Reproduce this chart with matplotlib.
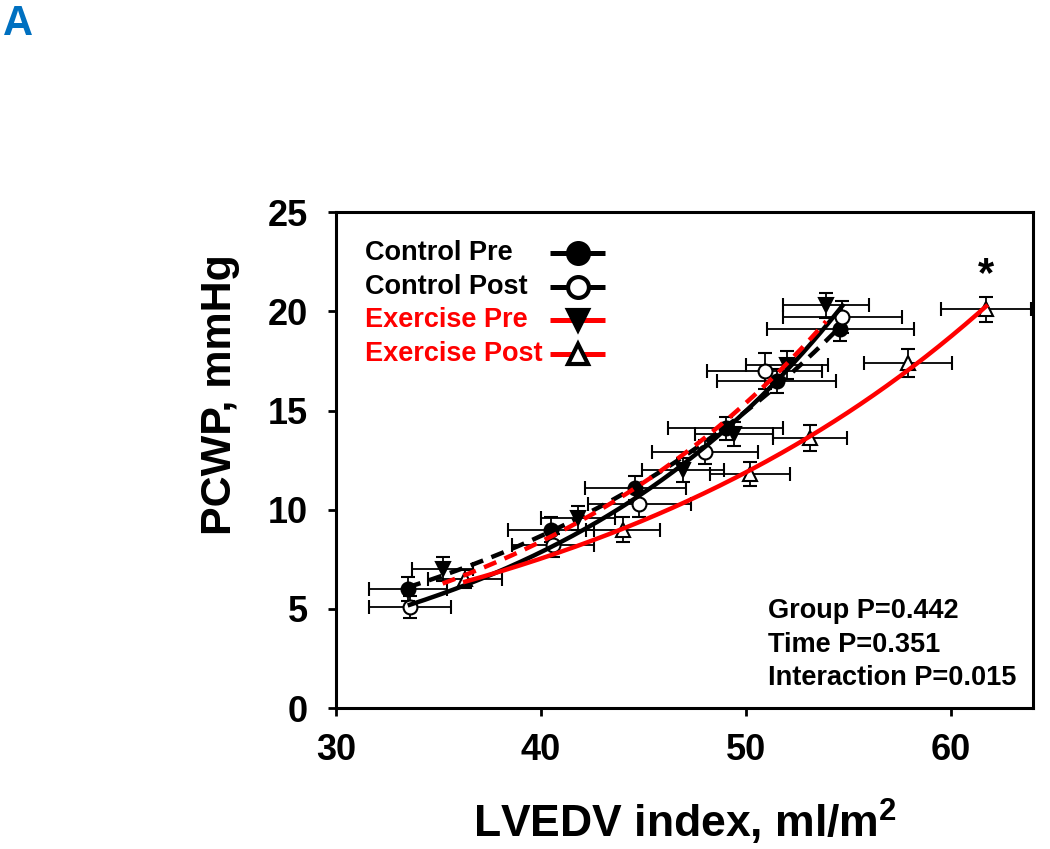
import numpy as np
import matplotlib
matplotlib.use("Agg")
import matplotlib.pyplot as plt
from matplotlib.lines import Line2D

plt.rcParams['font.family'] = ['Liberation Sans', 'DejaVu Sans']
plt.rcParams['font.weight'] = 'bold'
plt.rcParams['mathtext.fontset'] = 'custom'
plt.rcParams['mathtext.bf'] = 'Liberation Sans:bold'
plt.rcParams['mathtext.rm'] = 'Liberation Sans:bold'

# --- data ---
groups = ["Control Pre", "Control Post", "Exercise Pre", "Exercise Post"]

ctrl_pre_x = [33.5, 40.5, 44.6, 49.0, 51.5, 54.6]
ctrl_pre_y = [6.0, 9.0, 11.1, 14.1, 16.5, 19.1]
ctrl_pre_xerr = [1.9, 2.1, 2.45, 2.8, 2.9, 3.6]
ctrl_pre_yerr = [0.6, 0.65, 0.6, 0.6, 0.6, 0.6]

ctrl_post_x = [33.6, 40.6, 44.8, 48.0, 50.9, 54.7]
ctrl_post_y = [5.1, 8.2, 10.3, 12.9, 17.0, 19.7]
ctrl_post_xerr = [2.0, 2.0, 2.5, 2.6, 2.8, 2.9]
ctrl_post_yerr = [0.55, 0.6, 0.65, 0.6, 0.9, 0.8]

ex_pre_x = [35.2, 41.8, 46.9, 49.4, 52.0, 53.9]
ex_pre_y = [7.0, 9.6, 12.0, 13.8, 17.3, 20.3]
ex_pre_xerr = [1.5, 1.8, 2.0, 1.9, 2.0, 2.1]
ex_pre_yerr = [0.6, 0.6, 0.6, 0.6, 0.7, 0.65]

ex_post_x = [36.3, 44.0, 50.2, 53.1, 57.9, 61.7]
ex_post_y = [6.5, 9.0, 11.8, 13.6, 17.4, 20.1]
ex_post_xerr = [1.8, 1.8, 1.95, 1.8, 2.15, 2.2]
ex_post_yerr = [0.45, 0.65, 0.6, 0.65, 0.7, 0.65]

stats_text = ["Group P=0.442", "Time P=0.351", "Interaction P=0.015"]
x_ticks = [30, 40, 50, 60]
y_ticks = [0, 5, 10, 15, 20, 25]

fig = plt.figure(figsize=(10.5, 8.49), dpi=100)
ax = fig.add_axes([0.32, 0.166, 0.664, 0.584])

series = [
    (ctrl_pre_x, ctrl_pre_y, ctrl_pre_xerr, ctrl_pre_yerr, 'o', 'black', 'black', '--'),
    (ctrl_post_x, ctrl_post_y, ctrl_post_xerr, ctrl_post_yerr, 'o', 'white', 'black', '-'),
    (ex_pre_x, ex_pre_y, ex_pre_xerr, ex_pre_yerr, 'v', 'black', 'red', '--'),
    (ex_post_x, ex_post_y, ex_post_xerr, ex_post_yerr, '^', 'white', 'red', '-'),
]

for xs, ys, xe, ye, mk, fc, lc, ls in series:
    xs = np.array(xs); ys = np.array(ys)
    ax.errorbar(xs, ys, xerr=xe, yerr=ye, fmt=mk, mfc=fc, mec='black', mew=1.5,
                ms=10, ecolor='black', elinewidth=1.3, capsize=5, capthick=1.3, zorder=3)
    # exponential fit (least squares approx. in y-space)
    b, lna = np.polyfit(xs, np.log(ys), 1, w=ys)
    xf = np.linspace(xs.min(), xs.max(), 200)
    yf = np.exp(lna + b * xf)
    if ls == '--':
        ax.plot(xf, yf, color=lc, lw=3.2, ls=(0, (3, 2)), zorder=4)
    else:
        ax.plot(xf, yf, color=lc, lw=3.2, ls='-', zorder=4)

ax.set_xlim(30, 64)
ax.set_ylim(0, 25)
ax.set_xticks(x_ticks)
ax.set_yticks(y_ticks)
ax.tick_params(axis='both', direction='out', length=6, width=2, labelsize=26)
ax.tick_params(axis='y', pad=14)
ax.tick_params(axis='x', pad=12)
for lab in ax.get_xticklabels() + ax.get_yticklabels():
    lab.set_fontweight('bold')
for sp in ax.spines.values():
    sp.set_linewidth(2.2)

ax.set_xlabel("LVEDV index, ml/m$\\mathbf{^2}$", fontsize=32, fontweight='bold')
ax.set_ylabel("PCWP, mmHg", fontsize=31, fontweight='bold')
ax.xaxis.set_label_coords(0.5, -0.18)
ax.yaxis.set_label_coords(-0.137, 0.633)

# legend (drawn manually: text left, handle right)
leg_styles = [
    ('black', 'o', 'black', 'black'),
    ('black', 'o', 'white', 'black'),
    ('red', 'v', 'black', 'red'),
    ('red', '^', 'white', 'red'),
]
leg_y = [0.918, 0.85, 0.783, 0.715]
for name, (lc, mk, fc, tc), yy in zip(groups, leg_styles, leg_y):
    ax.text(0.042, yy, name, transform=ax.transAxes, fontsize=19.5,
            fontweight='bold', color=tc, ha='left', va='center')
    ax.add_line(Line2D([0.307, 0.386], [yy, yy], transform=ax.transAxes,
                       color=lc, lw=3.6, solid_capstyle='butt'))
    ax.add_line(Line2D([0.347], [yy], transform=ax.transAxes, marker=mk,
                       mfc=fc, mec='black', ms=15, mew=3, ls='none'))

stats_y = [0.196, 0.128, 0.060]
for s, yy in zip(stats_text, stats_y):
    ax.text(0.62, yy, s, transform=ax.transAxes, fontsize=19.5,
            fontweight='bold', va='center', ha='left')

ax.annotate("*", xy=(ex_post_x[-1], ex_post_y[-1]), xytext=(0, 10),
            textcoords='offset points', ha='center', va='bottom',
            fontsize=30, fontweight='bold')

fig.text(0.003, 0.995, "A", fontsize=30, fontweight='bold', color='#0070C0',
         ha='left', va='top')

fig.savefig("out.png", dpi=100)
